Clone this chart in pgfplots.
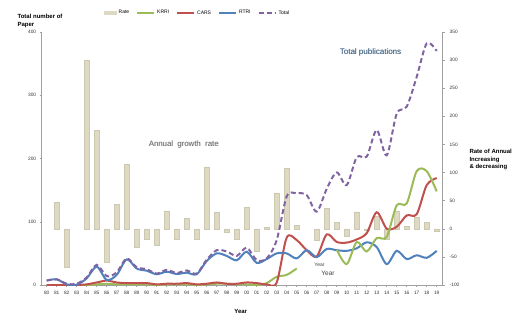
\documentclass[border=0pt]{standalone}
\usepackage{pgfplots}
\pgfplotsset{compat=1.18}
\usepackage{fontspec}
\setmainfont{Liberation Sans}
\definecolor{cBar}{RGB}{221,217,195}
\definecolor{cBarE}{RGB}{205,200,176}
\definecolor{cKRRI}{RGB}{155,187,89}
\definecolor{cCARS}{RGB}{192,80,77}
\definecolor{cRTRI}{RGB}{79,129,189}
\definecolor{cTot}{RGB}{128,100,162}
\definecolor{cAx}{RGB}{160,160,160}
\definecolor{cTP}{RGB}{47,85,120}
\pgfplotsset{
  linelegend/.style={legend image code/.code={\draw[##1] (0pt,0pt) -- (17pt,0pt);}},
  barlegend/.style={legend image code/.code={\fill[cBar] (0pt,-1.6pt) rectangle (12pt,1.6pt);}},
}
\begin{document}
\begin{tikzpicture}[x=1pt,y=1pt]
\pgfplotsset{
  base/.style={
    scale only axis, width=401pt, height=253pt,
    at={(0,0)}, anchor=south west,
    xmin=-0.5, xmax=39.6,
    axis line style={draw=cAx, line width=0.6pt},
    tick style={draw=cAx, line width=0.5pt},
    major tick length=2.5pt,
    tick align=outside,
    tick label style={font=\fontsize{4.8}{5}\selectfont, text=black!80},
    /pgf/number format/assume math mode=true,
    /pgf/number format/1000 sep={},
  }
}
% right axis: annual rate bars
\begin{axis}[base,
  axis y line*=right, axis x line=none,
  ymin=-100, ymax=350, ytick={-100,-50,...,350},
  ybar, bar width=4.8pt,
  yticklabel style={xshift=1pt},
]
\addplot[fill=cBar, draw=cBarE, line width=0.4pt] coordinates {
(1,48) (2,-69) (4,300) (5,175) (6,-60) (7,43) (8,115) (9,-32) (10,-19)
(11,-29) (12,32) (13,-19) (14,19) (15,-19) (16,110) (17,30) (18,-5.5)
(19,-19) (20,38) (21,-40) (22,2) (23,64) (24,107) (25,6.4) (27,-20)
(28,36) (29,12) (30,-14) (31,30) (32,-2) (33,22) (34,-19) (35,32)
(36,4) (37,21) (38,12) (39,-5)
};
\end{axis}
% left axis: publication counts
\begin{axis}[base,
  axis y line*=left, axis x line*=bottom,
  ymin=0, ymax=400, ytick={0,100,200,300,400},
  xtick={0,...,39},
  xticklabels={80,81,82,83,84,85,86,87,88,89,90,91,92,93,94,95,96,97,98,99,00,01,02,03,04,05,06,07,08,09,10,11,12,13,14,15,16,17,18,19},
  xticklabel style={yshift=-1pt},
  major tick length=2pt,
  legend columns=5,
  legend style={draw=none, fill=none, font=\fontsize{5}{6}\selectfont,
    at={(axis description cs:0.148,1.075)}, anchor=west,
    /tikz/every even column/.append style={column sep=5pt}},
  legend cell align=left,
]
\addlegendimage{barlegend}
\addlegendentry{Rate}
\addplot[cKRRI, line width=2pt, smooth, linelegend] coordinates {
(0,0) (1,0) (2,0) (3,0) (4,0) (5,1) (6,2) (7,1) (8,1) (9,1) (10,1) (11,0)
(12,1) (13,1) (14,1) (15,0) (16,1) (17,2) (18,2) (19,1) (20,1) (21,0) (22,3)
(23,13) (24,16) (25,26)
};
\addlegendentry{KRRI}
\addplot[cCARS, line width=2pt, smooth, linelegend] coordinates {
(0,0) (1,0) (2,0) (3,0) (4,1) (5,4) (6,7) (7,4) (8,3) (9,3) (10,3) (11,1)
(12,2) (13,2) (14,3) (15,1) (16,2) (17,4) (18,2) (19,2) (20,4) (21,3) (22,1)
(23,4) (24,75) (25,71) (26,55) (27,45) (28,80) (29,68) (30,67) (31,72)
(32,82) (33,115) (34,89) (35,92) (36,110) (37,112) (38,158) (39,169)
};
\addlegendentry{CARS}
\addplot[cRTRI, line width=2pt, smooth, linelegend] coordinates {
(0,7) (1,9) (2,1) (3,0.5) (4,10.5) (5,29) (6,8) (7,16) (8,40.5) (9,26)
(10,22.6) (11,17) (12,21) (13,17.4) (14,19.5) (15,17) (16,38) (17,50)
(18,46) (19,39) (20,52.7) (21,35) (22,41) (23,50) (24,50) (25,42)
(26,55) (27,44) (28,57) (29,55) (30,54) (31,58) (32,67.5) (33,60)
(34,33) (35,54) (36,41) (37,47) (38,43) (39,54)
};
\addlegendentry{RTRI}
\addplot[cTot, line width=2pt, smooth, dash pattern=on 5pt off 3pt, linelegend] coordinates {
(0,7) (1,9) (2,2) (3,2) (4,12) (5,32) (6,14) (7,20) (8,42) (9,28) (10,25)
(11,18) (12,24) (13,19) (14,23) (15,18) (16,40) (17,55) (18,53) (19,46)
(20,59) (21,39.5) (22,42) (23,71) (24,140) (25,145) (26,142) (27,116)
(28,152) (29,178) (30,158) (31,202) (32,203) (33,245) (34,205) (35,271)
(36,282) (37,329) (38,382) (39,370)
};
\addlegendentry{Total}
\addplot[cKRRI, line width=2pt, smooth, forget plot] coordinates {
(29,56) (30,33) (31,68) (32,53) (33,74) (34,76) (35,126) (36,129)
(37,180) (38,180) (39,148)
};
\end{axis}
% texts
\node[anchor=north west, align=left, font=\fontsize{6}{8.4}\selectfont\bfseries] at (-27.7,274.5) {Total number of\\Paper};
\node[anchor=north west, align=left, font=\fontsize{6}{7.3}\selectfont\bfseries] at (424.3,139) {Rate of Annual\\Increasing\\\& decreasing};
\node[font=\fontsize{6}{7}\selectfont\bfseries] at (199,-26) {Year};
\node[font=\fontsize{7.8}{9}\selectfont, text=black!20] at (142.5,140.2) {Annual\ \ growth\ \ rate};
\node[font=\fontsize{7.8}{9}\selectfont, text=black!60] at (142,140.7) {Annual\ \ growth\ \ rate};
\node[font=\fontsize{8}{9}\selectfont, text=cTP!30] at (329.3,232.5) {Total publications};
\node[font=\fontsize{8}{9}\selectfont, text=cTP] at (328.8,233) {Total publications};
\node[font=\fontsize{5}{6}\selectfont, text=black!75] at (277.8,20) {Year};
\node[font=\fontsize{6.5}{7}\selectfont, text=black!75] at (286.3,11.5) {Year};
\pgfresetboundingbox
\path (-41.7,-28) rectangle (476.3,285);
\end{tikzpicture}
\end{document}
